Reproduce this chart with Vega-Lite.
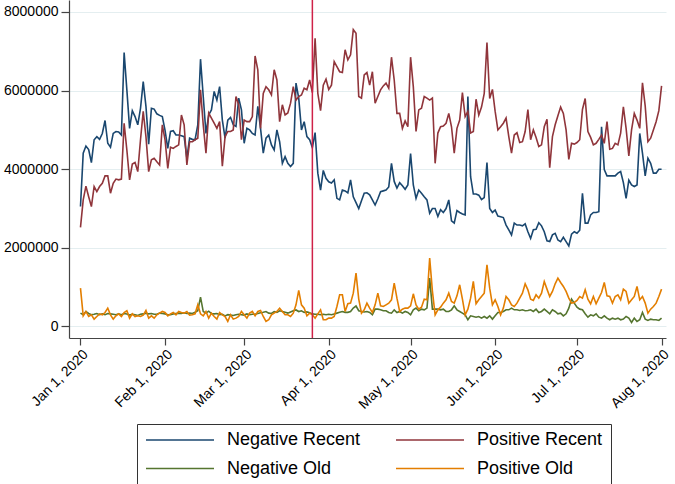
{
"$schema":"https://vega.github.io/schema/vega-lite/v6.json",
"width":597,"height":338,
"autosize":{"type":"none"},
"padding":{"left":69,"top":0,"right":9,"bottom":146},
"background":"white",
"config":{"view":{"stroke":null},"font":"Liberation Sans"},
"data":{"values":[
{"date":"2020-01-01","Negative Recent":3050000,"Positive Recent":2520000,"Negative Old":340000,"Positive Old":975000},
{"date":"2020-01-02","Negative Recent":4410000,"Positive Recent":3220000,"Negative Old":300000,"Positive Old":271000},
{"date":"2020-01-03","Negative Recent":4590000,"Positive Recent":3570000,"Negative Old":380000,"Positive Old":382000},
{"date":"2020-01-04","Negative Recent":4500000,"Positive Recent":3300000,"Negative Old":330000,"Positive Old":254000},
{"date":"2020-01-05","Negative Recent":4170000,"Positive Recent":3050000,"Negative Old":300000,"Positive Old":297000},
{"date":"2020-01-06","Negative Recent":4750000,"Positive Recent":3560000,"Negative Old":310000,"Positive Old":187000},
{"date":"2020-01-07","Negative Recent":4830000,"Positive Recent":3430000,"Negative Old":330000,"Positive Old":254000},
{"date":"2020-01-08","Negative Recent":4760000,"Positive Recent":3560000,"Negative Old":300000,"Positive Old":322000},
{"date":"2020-01-09","Negative Recent":4910000,"Positive Recent":3640000,"Negative Old":320000,"Positive Old":297000},
{"date":"2020-01-10","Negative Recent":5240000,"Positive Recent":3830000,"Negative Old":300000,"Positive Old":356000},
{"date":"2020-01-11","Negative Recent":4660000,"Positive Recent":3830000,"Negative Old":330000,"Positive Old":466000},
{"date":"2020-01-12","Negative Recent":4560000,"Positive Recent":3390000,"Negative Old":320000,"Positive Old":297000},
{"date":"2020-01-13","Negative Recent":4910000,"Positive Recent":3640000,"Negative Old":310000,"Positive Old":187000},
{"date":"2020-01-14","Negative Recent":4960000,"Positive Recent":3750000,"Negative Old":300000,"Positive Old":271000},
{"date":"2020-01-15","Negative Recent":4950000,"Positive Recent":3730000,"Negative Old":320000,"Positive Old":322000},
{"date":"2020-01-16","Negative Recent":4870000,"Positive Recent":3750000,"Negative Old":300000,"Positive Old":254000},
{"date":"2020-01-17","Negative Recent":6970000,"Positive Recent":5170000,"Negative Old":330000,"Positive Old":356000},
{"date":"2020-01-18","Negative Recent":6020000,"Positive Recent":4490000,"Negative Old":320000,"Positive Old":399000},
{"date":"2020-01-19","Negative Recent":5040000,"Positive Recent":3730000,"Negative Old":290000,"Positive Old":212000},
{"date":"2020-01-20","Negative Recent":5490000,"Positive Recent":4130000,"Negative Old":310000,"Positive Old":322000},
{"date":"2020-01-21","Negative Recent":5340000,"Positive Recent":4170000,"Negative Old":300000,"Positive Old":254000},
{"date":"2020-01-22","Negative Recent":5130000,"Positive Recent":3940000,"Negative Old":280000,"Positive Old":271000},
{"date":"2020-01-23","Negative Recent":5550000,"Positive Recent":4750000,"Negative Old":310000,"Positive Old":254000},
{"date":"2020-01-24","Negative Recent":6230000,"Positive Recent":5470000,"Negative Old":320000,"Positive Old":288000},
{"date":"2020-01-25","Negative Recent":5600000,"Positive Recent":4830000,"Negative Old":340000,"Positive Old":407000},
{"date":"2020-01-26","Negative Recent":4640000,"Positive Recent":3940000,"Negative Old":320000,"Positive Old":212000},
{"date":"2020-01-27","Negative Recent":5550000,"Positive Recent":4240000,"Negative Old":330000,"Positive Old":271000},
{"date":"2020-01-28","Negative Recent":5530000,"Positive Recent":4280000,"Negative Old":310000,"Positive Old":212000},
{"date":"2020-01-29","Negative Recent":5410000,"Positive Recent":4190000,"Negative Old":310000,"Positive Old":297000},
{"date":"2020-01-30","Negative Recent":5370000,"Positive Recent":4110000,"Negative Old":340000,"Positive Old":339000},
{"date":"2020-01-31","Negative Recent":5340000,"Positive Recent":5130000,"Negative Old":330000,"Positive Old":382000},
{"date":"2020-02-01","Negative Recent":4990000,"Positive Recent":4750000,"Negative Old":320000,"Positive Old":356000},
{"date":"2020-02-02","Negative Recent":4530000,"Positive Recent":4020000,"Negative Old":300000,"Positive Old":271000},
{"date":"2020-02-03","Negative Recent":4960000,"Positive Recent":4560000,"Negative Old":300000,"Positive Old":322000},
{"date":"2020-02-04","Negative Recent":4980000,"Positive Recent":4530000,"Negative Old":320000,"Positive Old":356000},
{"date":"2020-02-05","Negative Recent":4870000,"Positive Recent":4580000,"Negative Old":330000,"Positive Old":297000},
{"date":"2020-02-06","Negative Recent":4870000,"Positive Recent":4620000,"Negative Old":340000,"Positive Old":382000},
{"date":"2020-02-07","Negative Recent":4850000,"Positive Recent":5380000,"Negative Old":330000,"Positive Old":356000},
{"date":"2020-02-08","Negative Recent":4830000,"Positive Recent":5130000,"Negative Old":350000,"Positive Old":339000},
{"date":"2020-02-09","Negative Recent":4280000,"Positive Recent":4110000,"Negative Old":330000,"Positive Old":382000},
{"date":"2020-02-10","Negative Recent":4790000,"Positive Recent":4700000,"Negative Old":340000,"Positive Old":288000},
{"date":"2020-02-11","Negative Recent":4760000,"Positive Recent":4700000,"Negative Old":330000,"Positive Old":297000},
{"date":"2020-02-12","Negative Recent":4750000,"Positive Recent":4750000,"Negative Old":360000,"Positive Old":322000},
{"date":"2020-02-13","Negative Recent":5130000,"Positive Recent":4790000,"Negative Old":400000,"Positive Old":551000},
{"date":"2020-02-14","Negative Recent":6800000,"Positive Recent":6020000,"Negative Old":746000,"Positive Old":322000},
{"date":"2020-02-15","Negative Recent":5850000,"Positive Recent":5130000,"Negative Old":380000,"Positive Old":271000},
{"date":"2020-02-16","Negative Recent":4910000,"Positive Recent":4410000,"Negative Old":340000,"Positive Old":382000},
{"date":"2020-02-17","Negative Recent":5380000,"Positive Recent":5430000,"Negative Old":390000,"Positive Old":212000},
{"date":"2020-02-18","Negative Recent":5510000,"Positive Recent":5300000,"Negative Old":330000,"Positive Old":339000},
{"date":"2020-02-19","Negative Recent":5980000,"Positive Recent":5170000,"Negative Old":320000,"Positive Old":254000},
{"date":"2020-02-20","Negative Recent":5760000,"Positive Recent":5040000,"Negative Old":330000,"Positive Old":187000},
{"date":"2020-02-21","Negative Recent":6100000,"Positive Recent":5210000,"Negative Old":300000,"Positive Old":356000},
{"date":"2020-02-22","Negative Recent":5250000,"Positive Recent":4080000,"Negative Old":310000,"Positive Old":297000},
{"date":"2020-02-23","Negative Recent":4790000,"Positive Recent":4830000,"Negative Old":270000,"Positive Old":254000},
{"date":"2020-02-24","Negative Recent":5250000,"Positive Recent":4960000,"Negative Old":300000,"Positive Old":127000},
{"date":"2020-02-25","Negative Recent":5320000,"Positive Recent":4960000,"Negative Old":290000,"Positive Old":297000},
{"date":"2020-02-26","Negative Recent":5130000,"Positive Recent":5000000,"Negative Old":280000,"Positive Old":187000},
{"date":"2020-02-27","Negative Recent":5090000,"Positive Recent":5850000,"Negative Old":300000,"Positive Old":212000},
{"date":"2020-02-28","Negative Recent":5810000,"Positive Recent":5640000,"Negative Old":310000,"Positive Old":254000},
{"date":"2020-02-29","Negative Recent":5510000,"Positive Recent":4750000,"Negative Old":300000,"Positive Old":382000},
{"date":"2020-03-01","Negative Recent":4660000,"Positive Recent":5250000,"Negative Old":290000,"Positive Old":297000},
{"date":"2020-03-02","Negative Recent":5040000,"Positive Recent":5210000,"Negative Old":320000,"Positive Old":212000},
{"date":"2020-03-03","Negative Recent":5000000,"Positive Recent":5210000,"Negative Old":300000,"Positive Old":339000},
{"date":"2020-03-04","Negative Recent":4910000,"Positive Recent":5340000,"Negative Old":310000,"Positive Old":382000},
{"date":"2020-03-05","Negative Recent":4870000,"Positive Recent":6880000,"Negative Old":310000,"Positive Old":271000},
{"date":"2020-03-06","Negative Recent":5600000,"Positive Recent":6530000,"Negative Old":330000,"Positive Old":382000},
{"date":"2020-03-07","Negative Recent":5040000,"Positive Recent":5040000,"Negative Old":350000,"Positive Old":407000},
{"date":"2020-03-08","Negative Recent":4410000,"Positive Recent":5930000,"Negative Old":360000,"Positive Old":254000},
{"date":"2020-03-09","Negative Recent":4790000,"Positive Recent":6100000,"Negative Old":380000,"Positive Old":127000},
{"date":"2020-03-10","Negative Recent":4870000,"Positive Recent":6020000,"Negative Old":340000,"Positive Old":170000},
{"date":"2020-03-11","Negative Recent":4620000,"Positive Recent":5890000,"Negative Old":330000,"Positive Old":297000},
{"date":"2020-03-12","Negative Recent":4490000,"Positive Recent":6530000,"Negative Old":380000,"Positive Old":339000},
{"date":"2020-03-13","Negative Recent":5000000,"Positive Recent":6270000,"Negative Old":360000,"Positive Old":382000},
{"date":"2020-03-14","Negative Recent":4700000,"Positive Recent":5210000,"Negative Old":400000,"Positive Old":466000},
{"date":"2020-03-15","Negative Recent":4150000,"Positive Recent":5640000,"Negative Old":380000,"Positive Old":382000},
{"date":"2020-03-16","Negative Recent":4320000,"Positive Recent":5380000,"Negative Old":360000,"Positive Old":297000},
{"date":"2020-03-17","Negative Recent":4150000,"Positive Recent":5430000,"Negative Old":340000,"Positive Old":297000},
{"date":"2020-03-18","Negative Recent":4070000,"Positive Recent":5680000,"Negative Old":370000,"Positive Old":254000},
{"date":"2020-03-19","Negative Recent":4150000,"Positive Recent":6100000,"Negative Old":400000,"Positive Old":339000},
{"date":"2020-03-20","Negative Recent":6190000,"Positive Recent":5760000,"Negative Old":420000,"Positive Old":551000},
{"date":"2020-03-21","Negative Recent":5810000,"Positive Recent":5850000,"Negative Old":380000,"Positive Old":916000},
{"date":"2020-03-22","Negative Recent":5000000,"Positive Recent":5890000,"Negative Old":400000,"Positive Old":551000},
{"date":"2020-03-23","Negative Recent":5210000,"Positive Recent":6060000,"Negative Old":360000,"Positive Old":466000},
{"date":"2020-03-24","Negative Recent":4830000,"Positive Recent":6020000,"Negative Old":370000,"Positive Old":271000},
{"date":"2020-03-25","Negative Recent":4750000,"Positive Recent":6270000,"Negative Old":350000,"Positive Old":339000},
{"date":"2020-03-26","Negative Recent":4550000,"Positive Recent":5950000,"Negative Old":320000,"Positive Old":297000},
{"date":"2020-03-27","Negative Recent":4930000,"Positive Recent":7330000,"Negative Old":310000,"Positive Old":212000},
{"date":"2020-03-28","Negative Recent":3900000,"Positive Recent":5930000,"Negative Old":310000,"Positive Old":322000},
{"date":"2020-03-29","Negative Recent":3470000,"Positive Recent":5490000,"Negative Old":300000,"Positive Old":424000},
{"date":"2020-03-30","Negative Recent":3970000,"Positive Recent":6140000,"Negative Old":310000,"Positive Old":170000},
{"date":"2020-03-31","Negative Recent":3770000,"Positive Recent":6290000,"Negative Old":300000,"Positive Old":170000},
{"date":"2020-04-01","Negative Recent":3680000,"Positive Recent":6030000,"Negative Old":310000,"Positive Old":212000},
{"date":"2020-04-02","Negative Recent":3650000,"Positive Recent":6140000,"Negative Old":300000,"Positive Old":212000},
{"date":"2020-04-03","Negative Recent":3730000,"Positive Recent":6740000,"Negative Old":320000,"Positive Old":254000},
{"date":"2020-04-04","Negative Recent":3260000,"Positive Recent":6610000,"Negative Old":340000,"Positive Old":509000},
{"date":"2020-04-05","Negative Recent":3220000,"Positive Recent":6480000,"Negative Old":360000,"Positive Old":806000},
{"date":"2020-04-06","Negative Recent":3470000,"Positive Recent":6460000,"Negative Old":380000,"Positive Old":806000},
{"date":"2020-04-07","Negative Recent":3450000,"Positive Recent":7040000,"Negative Old":360000,"Positive Old":382000},
{"date":"2020-04-08","Negative Recent":3400000,"Positive Recent":6780000,"Negative Old":360000,"Positive Old":577000},
{"date":"2020-04-09","Negative Recent":3730000,"Positive Recent":6910000,"Negative Old":380000,"Positive Old":594000},
{"date":"2020-04-10","Negative Recent":3300000,"Positive Recent":7550000,"Negative Old":470000,"Positive Old":848000},
{"date":"2020-04-11","Negative Recent":3150000,"Positive Recent":7460000,"Negative Old":520000,"Positive Old":1357000},
{"date":"2020-04-12","Negative Recent":3000000,"Positive Recent":5850000,"Negative Old":400000,"Positive Old":696000},
{"date":"2020-04-13","Negative Recent":3200000,"Positive Recent":5810000,"Negative Old":380000,"Positive Old":339000},
{"date":"2020-04-14","Negative Recent":3390000,"Positive Recent":6400000,"Negative Old":370000,"Positive Old":424000},
{"date":"2020-04-15","Negative Recent":3400000,"Positive Recent":6460000,"Negative Old":380000,"Positive Old":594000},
{"date":"2020-04-16","Negative Recent":3350000,"Positive Recent":6140000,"Negative Old":356000,"Positive Old":467000},
{"date":"2020-04-17","Negative Recent":3220000,"Positive Recent":6480000,"Negative Old":297000,"Positive Old":356000},
{"date":"2020-04-18","Negative Recent":3090000,"Positive Recent":5680000,"Negative Old":441000,"Positive Old":551000},
{"date":"2020-04-19","Negative Recent":3250000,"Positive Recent":5850000,"Negative Old":441000,"Positive Old":848000},
{"date":"2020-04-20","Negative Recent":3430000,"Positive Recent":6020000,"Negative Old":424000,"Positive Old":526000},
{"date":"2020-04-21","Negative Recent":3450000,"Positive Recent":6120000,"Negative Old":399000,"Positive Old":509000},
{"date":"2020-04-22","Negative Recent":3470000,"Positive Recent":6190000,"Negative Old":399000,"Positive Old":551000},
{"date":"2020-04-23","Negative Recent":3550000,"Positive Recent":6060000,"Negative Old":356000,"Positive Old":594000},
{"date":"2020-04-24","Negative Recent":4150000,"Positive Recent":6850000,"Negative Old":339000,"Positive Old":679000},
{"date":"2020-04-25","Negative Recent":3690000,"Positive Recent":6270000,"Negative Old":424000,"Positive Old":1103000},
{"date":"2020-04-26","Negative Recent":3520000,"Positive Recent":5420000,"Negative Old":356000,"Positive Old":721000},
{"date":"2020-04-27","Negative Recent":3660000,"Positive Recent":5420000,"Negative Old":382000,"Positive Old":382000},
{"date":"2020-04-28","Negative Recent":3580000,"Positive Recent":5040000,"Negative Old":339000,"Positive Old":441000},
{"date":"2020-04-29","Negative Recent":3490000,"Positive Recent":5230000,"Negative Old":382000,"Positive Old":467000},
{"date":"2020-04-30","Negative Recent":3600000,"Positive Recent":5080000,"Negative Old":356000,"Positive Old":467000},
{"date":"2020-05-01","Negative Recent":4400000,"Positive Recent":6850000,"Negative Old":297000,"Positive Old":526000},
{"date":"2020-05-02","Negative Recent":3600000,"Positive Recent":6100000,"Negative Old":424000,"Positive Old":831000},
{"date":"2020-05-03","Negative Recent":3260000,"Positive Recent":4960000,"Negative Old":467000,"Positive Old":551000},
{"date":"2020-05-04","Negative Recent":3470000,"Positive Recent":5510000,"Negative Old":399000,"Positive Old":441000},
{"date":"2020-05-05","Negative Recent":3390000,"Positive Recent":5550000,"Negative Old":441000,"Positive Old":492000},
{"date":"2020-05-06","Negative Recent":3300000,"Positive Recent":5850000,"Negative Old":424000,"Positive Old":696000},
{"date":"2020-05-07","Negative Recent":3220000,"Positive Recent":5810000,"Negative Old":467000,"Positive Old":679000},
{"date":"2020-05-08","Negative Recent":2880000,"Positive Recent":5760000,"Negative Old":1230000,"Positive Old":1739000},
{"date":"2020-05-09","Negative Recent":3000000,"Positive Recent":5810000,"Negative Old":441000,"Positive Old":900000},
{"date":"2020-05-10","Negative Recent":3000000,"Positive Recent":4150000,"Negative Old":441000,"Positive Old":297000},
{"date":"2020-05-11","Negative Recent":2800000,"Positive Recent":4920000,"Negative Old":441000,"Positive Old":424000},
{"date":"2020-05-12","Negative Recent":2970000,"Positive Recent":5080000,"Negative Old":424000,"Positive Old":492000},
{"date":"2020-05-13","Negative Recent":2900000,"Positive Recent":5100000,"Negative Old":441000,"Positive Old":594000},
{"date":"2020-05-14","Negative Recent":3000000,"Positive Recent":5170000,"Negative Old":382000,"Positive Old":679000},
{"date":"2020-05-15","Negative Recent":3220000,"Positive Recent":5420000,"Negative Old":382000,"Positive Old":848000},
{"date":"2020-05-16","Negative Recent":2690000,"Positive Recent":5080000,"Negative Old":424000,"Positive Old":636000},
{"date":"2020-05-17","Negative Recent":2630000,"Positive Recent":4410000,"Negative Old":526000,"Positive Old":594000},
{"date":"2020-05-18","Negative Recent":2950000,"Positive Recent":5040000,"Negative Old":424000,"Positive Old":780000},
{"date":"2020-05-19","Negative Recent":2900000,"Positive Recent":5250000,"Negative Old":382000,"Positive Old":1060000},
{"date":"2020-05-20","Negative Recent":2860000,"Positive Recent":5950000,"Negative Old":339000,"Positive Old":696000},
{"date":"2020-05-21","Negative Recent":2840000,"Positive Recent":5340000,"Negative Old":297000,"Positive Old":297000},
{"date":"2020-05-22","Negative Recent":5850000,"Positive Recent":5470000,"Negative Old":170000,"Positive Old":441000},
{"date":"2020-05-23","Negative Recent":3810000,"Positive Recent":4920000,"Negative Old":271000,"Positive Old":721000},
{"date":"2020-05-24","Negative Recent":3370000,"Positive Recent":4960000,"Negative Old":254000,"Positive Old":1145000},
{"date":"2020-05-25","Negative Recent":3370000,"Positive Recent":5780000,"Negative Old":237000,"Positive Old":577000},
{"date":"2020-05-26","Negative Recent":3340000,"Positive Recent":5380000,"Negative Old":254000,"Positive Old":679000},
{"date":"2020-05-27","Negative Recent":3230000,"Positive Recent":5580000,"Negative Old":212000,"Positive Old":763000},
{"date":"2020-05-28","Negative Recent":3280000,"Positive Recent":5930000,"Negative Old":254000,"Positive Old":848000},
{"date":"2020-05-29","Negative Recent":4170000,"Positive Recent":7220000,"Negative Old":212000,"Positive Old":1569000},
{"date":"2020-05-30","Negative Recent":3000000,"Positive Recent":5800000,"Negative Old":271000,"Positive Old":975000},
{"date":"2020-05-31","Negative Recent":2900000,"Positive Recent":6030000,"Negative Old":187000,"Positive Old":551000},
{"date":"2020-06-01","Negative Recent":2960000,"Positive Recent":5470000,"Negative Old":271000,"Positive Old":679000},
{"date":"2020-06-02","Negative Recent":2810000,"Positive Recent":5000000,"Negative Old":356000,"Positive Old":509000},
{"date":"2020-06-03","Negative Recent":2790000,"Positive Recent":5080000,"Negative Old":356000,"Positive Old":297000},
{"date":"2020-06-04","Negative Recent":2770000,"Positive Recent":5170000,"Negative Old":382000,"Positive Old":467000},
{"date":"2020-06-05","Negative Recent":2580000,"Positive Recent":5300000,"Negative Old":424000,"Positive Old":763000},
{"date":"2020-06-06","Negative Recent":2460000,"Positive Recent":4830000,"Negative Old":424000,"Positive Old":679000},
{"date":"2020-06-07","Negative Recent":2330000,"Positive Recent":4410000,"Negative Old":467000,"Positive Old":551000},
{"date":"2020-06-08","Negative Recent":2630000,"Positive Recent":4870000,"Negative Old":424000,"Positive Old":509000},
{"date":"2020-06-09","Negative Recent":2580000,"Positive Recent":4930000,"Negative Old":424000,"Positive Old":594000},
{"date":"2020-06-10","Negative Recent":2580000,"Positive Recent":4680000,"Negative Old":407000,"Positive Old":721000},
{"date":"2020-06-11","Negative Recent":2560000,"Positive Recent":4700000,"Negative Old":424000,"Positive Old":848000},
{"date":"2020-06-12","Negative Recent":2610000,"Positive Recent":4960000,"Negative Old":399000,"Positive Old":1086000},
{"date":"2020-06-13","Negative Recent":2410000,"Positive Recent":5520000,"Negative Old":407000,"Positive Old":933000},
{"date":"2020-06-14","Negative Recent":2240000,"Positive Recent":4750000,"Negative Old":424000,"Positive Old":696000},
{"date":"2020-06-15","Negative Recent":2460000,"Positive Recent":5000000,"Negative Old":382000,"Positive Old":662000},
{"date":"2020-06-16","Negative Recent":2470000,"Positive Recent":4810000,"Negative Old":441000,"Positive Old":806000},
{"date":"2020-06-17","Negative Recent":2640000,"Positive Recent":4580000,"Negative Old":356000,"Positive Old":721000},
{"date":"2020-06-18","Negative Recent":2560000,"Positive Recent":4620000,"Negative Old":382000,"Positive Old":848000},
{"date":"2020-06-19","Negative Recent":2410000,"Positive Recent":5080000,"Negative Old":441000,"Positive Old":1145000},
{"date":"2020-06-20","Negative Recent":2180000,"Positive Recent":5270000,"Negative Old":382000,"Positive Old":950000},
{"date":"2020-06-21","Negative Recent":2160000,"Positive Recent":4040000,"Negative Old":322000,"Positive Old":763000},
{"date":"2020-06-22","Negative Recent":2330000,"Positive Recent":4830000,"Negative Old":424000,"Positive Old":891000},
{"date":"2020-06-23","Negative Recent":2370000,"Positive Recent":5130000,"Negative Old":382000,"Positive Old":1086000},
{"date":"2020-06-24","Negative Recent":2200000,"Positive Recent":5360000,"Negative Old":322000,"Positive Old":1230000},
{"date":"2020-06-25","Negative Recent":2160000,"Positive Recent":5580000,"Negative Old":339000,"Positive Old":1120000},
{"date":"2020-06-26","Negative Recent":2270000,"Positive Recent":5420000,"Negative Old":271000,"Positive Old":1018000},
{"date":"2020-06-27","Negative Recent":2160000,"Positive Recent":5000000,"Negative Old":322000,"Positive Old":891000},
{"date":"2020-06-28","Negative Recent":2050000,"Positive Recent":4250000,"Negative Old":467000,"Positive Old":721000},
{"date":"2020-06-29","Negative Recent":2350000,"Positive Recent":4660000,"Negative Old":696000,"Positive Old":594000},
{"date":"2020-06-30","Negative Recent":2410000,"Positive Recent":4640000,"Negative Old":594000,"Positive Old":611000},
{"date":"2020-07-01","Negative Recent":2370000,"Positive Recent":4680000,"Negative Old":492000,"Positive Old":662000},
{"date":"2020-07-02","Negative Recent":2450000,"Positive Recent":4750000,"Negative Old":441000,"Positive Old":763000},
{"date":"2020-07-03","Negative Recent":3390000,"Positive Recent":5520000,"Negative Old":424000,"Positive Old":721000},
{"date":"2020-07-04","Negative Recent":2630000,"Positive Recent":5800000,"Negative Old":322000,"Positive Old":933000},
{"date":"2020-07-05","Negative Recent":2630000,"Positive Recent":4960000,"Negative Old":237000,"Positive Old":696000},
{"date":"2020-07-06","Negative Recent":2840000,"Positive Recent":4810000,"Negative Old":297000,"Positive Old":577000},
{"date":"2020-07-07","Negative Recent":2900000,"Positive Recent":4620000,"Negative Old":271000,"Positive Old":763000},
{"date":"2020-07-08","Negative Recent":2900000,"Positive Recent":4660000,"Negative Old":322000,"Positive Old":577000},
{"date":"2020-07-09","Negative Recent":2920000,"Positive Recent":4760000,"Negative Old":237000,"Positive Old":721000},
{"date":"2020-07-10","Negative Recent":5080000,"Positive Recent":4870000,"Negative Old":212000,"Positive Old":865000},
{"date":"2020-07-11","Negative Recent":3990000,"Positive Recent":4660000,"Negative Old":271000,"Positive Old":1120000},
{"date":"2020-07-12","Negative Recent":3830000,"Positive Recent":5210000,"Negative Old":212000,"Positive Old":780000},
{"date":"2020-07-13","Negative Recent":3830000,"Positive Recent":4510000,"Negative Old":170000,"Positive Old":763000},
{"date":"2020-07-14","Negative Recent":3830000,"Positive Recent":4530000,"Negative Old":212000,"Positive Old":594000},
{"date":"2020-07-15","Negative Recent":3830000,"Positive Recent":4660000,"Negative Old":187000,"Positive Old":763000},
{"date":"2020-07-16","Negative Recent":3900000,"Positive Recent":4620000,"Negative Old":212000,"Positive Old":806000},
{"date":"2020-07-17","Negative Recent":3940000,"Positive Recent":4920000,"Negative Old":170000,"Positive Old":679000},
{"date":"2020-07-18","Negative Recent":3660000,"Positive Recent":5590000,"Negative Old":187000,"Positive Old":950000},
{"date":"2020-07-19","Negative Recent":3260000,"Positive Recent":5040000,"Negative Old":254000,"Positive Old":891000},
{"date":"2020-07-20","Negative Recent":3720000,"Positive Recent":4340000,"Negative Old":212000,"Positive Old":594000},
{"date":"2020-07-21","Negative Recent":3600000,"Positive Recent":5000000,"Negative Old":102000,"Positive Old":679000},
{"date":"2020-07-22","Negative Recent":3560000,"Positive Recent":5420000,"Negative Old":212000,"Positive Old":763000},
{"date":"2020-07-23","Negative Recent":3600000,"Positive Recent":5250000,"Negative Old":127000,"Positive Old":1018000},
{"date":"2020-07-24","Negative Recent":4910000,"Positive Recent":5040000,"Negative Old":170000,"Positive Old":679000},
{"date":"2020-07-25","Negative Recent":4410000,"Positive Recent":6200000,"Negative Old":356000,"Positive Old":763000},
{"date":"2020-07-26","Negative Recent":3830000,"Positive Recent":5610000,"Negative Old":187000,"Positive Old":594000},
{"date":"2020-07-27","Negative Recent":4280000,"Positive Recent":4700000,"Negative Old":153000,"Positive Old":339000},
{"date":"2020-07-28","Negative Recent":4150000,"Positive Recent":4790000,"Negative Old":187000,"Positive Old":441000},
{"date":"2020-07-29","Negative Recent":3900000,"Positive Recent":5000000,"Negative Old":170000,"Positive Old":509000},
{"date":"2020-07-30","Negative Recent":3900000,"Positive Recent":5210000,"Negative Old":170000,"Positive Old":594000},
{"date":"2020-07-31","Negative Recent":4000000,"Positive Recent":5490000,"Negative Old":153000,"Positive Old":763000},
{"date":"2020-08-01","Negative Recent":4000000,"Positive Recent":6120000,"Negative Old":212000,"Positive Old":950000}
]},
"layer":[
{"transform":[{"fold":["Negative Recent","Positive Recent","Negative Old","Positive Old"],"as":["series","value"]}],
 "mark":{"type":"line","strokeWidth":1.6},
 "encoding":{
  "x":{"field":"date","type":"temporal",
   "scale":{"type":"utc","domain":[{"year":2019,"month":12,"date":27,"hours":19,"utc":true},{"year":2020,"month":8,"date":2,"hours":15,"utc":true}]},
   "axis":{"title":null,"grid":false,
    "values":[{"year":2020,"month":1,"date":1,"utc":true},{"year":2020,"month":2,"date":1,"utc":true},{"year":2020,"month":3,"date":1,"utc":true},{"year":2020,"month":4,"date":1,"utc":true},{"year":2020,"month":5,"date":1,"utc":true},{"year":2020,"month":6,"date":1,"utc":true},{"year":2020,"month":7,"date":1,"utc":true},{"year":2020,"month":8,"date":1,"utc":true}],
    "labelExpr":"utcFormat(datum.value, '%b %-d, %Y')",
    "labelAngle":-45,"labelAlign":"right","labelBaseline":"top","labelFontSize":14,"labelColor":"#000","labelFont":"Liberation Sans",
    "labelPadding":2,"labelOverlap":false,"labelFlush":false,
    "tickSize":7,"tickColor":"#444","tickWidth":1.2,"domainColor":"#444","domainWidth":1.2}},
  "y":{"field":"value","type":"quantitative",
   "scale":{"domain":[-293000,8305000],"nice":false,"zero":false},
   "axis":{"title":null,"values":[0,2000000,4000000,6000000,8000000],"format":"d",
    "labelFontSize":14,"labelColor":"#000","labelFont":"Liberation Sans","labelPadding":3,"labelFlush":false,
    "tickSize":8,"tickColor":"#444","tickWidth":1.2,"domainColor":"#444","domainWidth":1.2,
    "grid":true,"gridColor":"#e4eef0","gridWidth":1}},
  "color":{"field":"series","type":"nominal",
   "scale":{"domain":["Negative Recent","Positive Recent","Negative Old","Positive Old"],"range":["#1a476f","#90353b","#55752f","#e37e00"]},
   "legend":{"title":null,"orient":"none","legendX":68,"legendY":424,"columns":2,"direction":"horizontal",
    "symbolType":"stroke","symbolSize":4624,"symbolStrokeWidth":1.3,"clipHeight":16,
    "labelFontSize":18,"labelFont":"Liberation Sans","labelColor":"#000","labelOffset":12,
    "columnPadding":34,"rowPadding":10.5,"padding":8,"strokeColor":"#333","fillColor":"#fff","cornerRadius":0}}
 }},
{"data":{"values":[{"date":"2020-03-26"}]},
 "mark":{"type":"rule","color":"#cf2148","strokeWidth":1.5},
 "encoding":{"x":{"field":"date","type":"temporal"}}}
]
}
